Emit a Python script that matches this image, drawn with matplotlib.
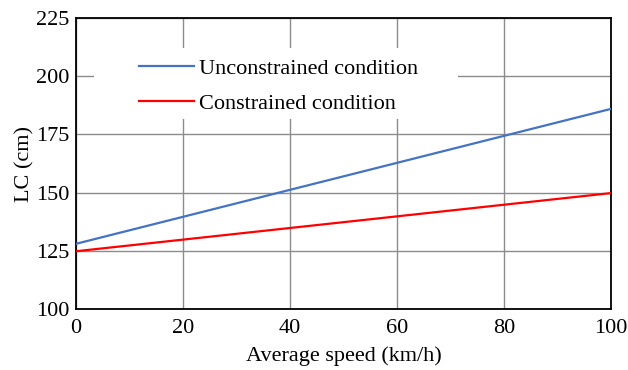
import matplotlib
matplotlib.use("Agg")
import matplotlib.pyplot as plt
from matplotlib.patches import Rectangle

speed = [0, 20, 40, 60, 80, 100]
unconstrained = [128.0, 139.6, 151.2, 162.8, 174.4, 186.0]
constrained = [124.8, 129.8, 134.8, 139.8, 144.8, 149.8]
xticks = [0, 20, 40, 60, 80, 100]
yticks = [100, 125, 150, 175, 200, 225]

plt.rcParams['font.family'] = ['Liberation Serif', 'DejaVu Serif']
fig = plt.figure(figsize=(6.28, 3.70), dpi=100)
ax = fig.add_axes([0.121, 0.165, 0.852, 0.786])
ax.plot(speed, unconstrained, color='#4472C4', lw=1.6, label='Unconstrained condition', zorder=3)
ax.plot(speed, constrained, color='#FF0000', lw=1.6, label='Constrained condition', zorder=3)
ax.set_xlim(0, 100)
ax.set_ylim(100, 225)
ax.set_xticks(xticks)
ax.set_yticks(yticks)
ax.grid(True, color='#8c8c8c', lw=1.0)
ax.set_axisbelow(True)
ax.tick_params(length=0, labelsize=16)
ax.tick_params(axis='x', pad=7)
ax.tick_params(axis='y', pad=5)
for s in ax.spines.values():
    s.set_color('black')
    s.set_linewidth(1.3)
ax.set_xlabel('Average speed (km/h)', fontsize=16, labelpad=6)
ax.set_ylabel('LC (cm)', fontsize=16, labelpad=1)
ax.add_patch(Rectangle((0.0336, 0.653), 0.680, 0.244, transform=ax.transAxes,
                       facecolor='white', edgecolor='none', zorder=2))
leg = ax.legend(loc='center left', bbox_to_anchor=(0.1178, 0.766), fontsize=16,
                frameon=False, handlelength=2.48, handletextpad=0.22, borderpad=0,
                borderaxespad=0, labelspacing=0.64)
fig.savefig('out.png', dpi=100)
